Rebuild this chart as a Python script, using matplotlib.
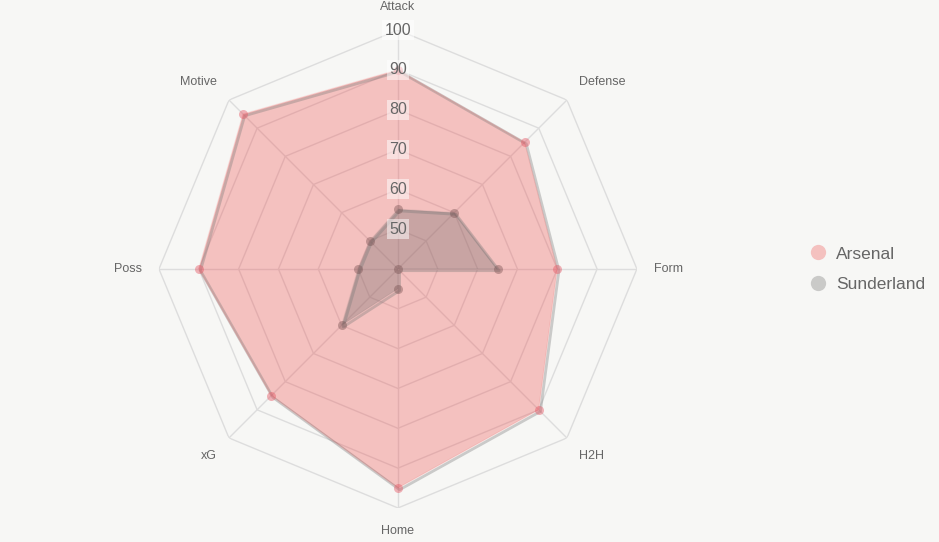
import numpy as np
import matplotlib
matplotlib.use("Agg")
import matplotlib.pyplot as plt
from matplotlib import patheffects as pe
from matplotlib.lines import Line2D

# data
categories = ["Attack", "Defense", "Form", "H2H", "Home", "xG", "Poss", "Motive"]
arsenal = [90, 85, 80, 90, 95, 85, 90, 95]
sunderland = [55, 60, 65, 40, 45, 60, 50, 50]
ticks = [50, 60, 70, 80, 90, 100]
r_min, r_max = 40, 100

plt.rcParams["font.family"] = ["Liberation Sans", "DejaVu Sans"]

bg = "#f7f7f5"
fig = plt.figure(figsize=(9.39, 5.42), dpi=100, facecolor=bg)
ax = fig.add_axes([0.1693, 0.0627, 0.509, 0.882], projection="polar")
ax.set_facecolor("none")
ax.set_theta_zero_location("N")
ax.set_theta_direction(-1)
ax.set_ylim(r_min, r_max)
ax.grid(False)
ax.spines["polar"].set_visible(False)
ax.set_xticks([])
ax.set_yticks([])

n = len(categories)
theta = np.arange(n) * 2 * np.pi / n
closed = np.append(theta, theta[0])

# octagon grid
for t in ticks:
    ax.plot(closed, [t] * (n + 1), color="#dddddd", lw=1, zorder=1)
for th in theta:
    ax.plot([th, th], [r_min, r_max], color="#dddddd", lw=1, zorder=1)

shadow = [pe.SimpleLineShadow(offset=(1.2, -1.2), shadow_color="#777777", alpha=0.35, linewidth=2), pe.Normal()]

def draw(vals, color, alpha, pcolor):
    v = np.append(vals, vals[0])
    ax.fill(closed, v, color=color, alpha=alpha, lw=0, zorder=2)
    ax.plot(closed, v, color=color, alpha=0.12, lw=1.0, zorder=3, path_effects=shadow)
    ax.plot(theta, vals, "o", ms=6.5, color=pcolor, mec="none", zorder=4)

draw(arsenal, "#ef4444", 0.3, (0.9, 0.35, 0.4, 0.45))
draw(sunderland, "#646464", 0.3, (0.45, 0.3, 0.3, 0.4))

# tick labels along the Attack spoke
for t in ticks:
    ax.text(0, t, str(t), ha="center", va="center", fontsize=11.5, color="#666666", zorder=5,
            bbox=dict(boxstyle="square,pad=0.15", fc=(1, 1, 1, 0.5), ec="none"))

# category labels
for th, lab in zip(theta, categories):
    s, c = np.sin(th), np.cos(th)
    ha = "center" if abs(s) < 0.1 else ("left" if s > 0 else "right")
    va = "center" if abs(c) < 0.1 else ("bottom" if c > 0 else "top")
    ax.text(th, 104.3, lab, ha=ha, va=va, fontsize=9, color="#666666", clip_on=False)

handles = [
    Line2D([], [], ls="none", marker="o", ms=11, mfc=(0.937, 0.267, 0.267, 0.3), mec="none"),
    Line2D([], [], ls="none", marker="o", ms=11, mfc=(0.39, 0.39, 0.39, 0.3), mec="none"),
]
fig.legend(handles, ["Arsenal", "Sunderland"], loc="center left", bbox_to_anchor=(0.845, 0.503),
           frameon=False, fontsize=12.5, labelcolor="#666666", handletextpad=0.55,
           labelspacing=0.9, handlelength=1.0)

fig.savefig("out.png", dpi=100, facecolor=bg)
